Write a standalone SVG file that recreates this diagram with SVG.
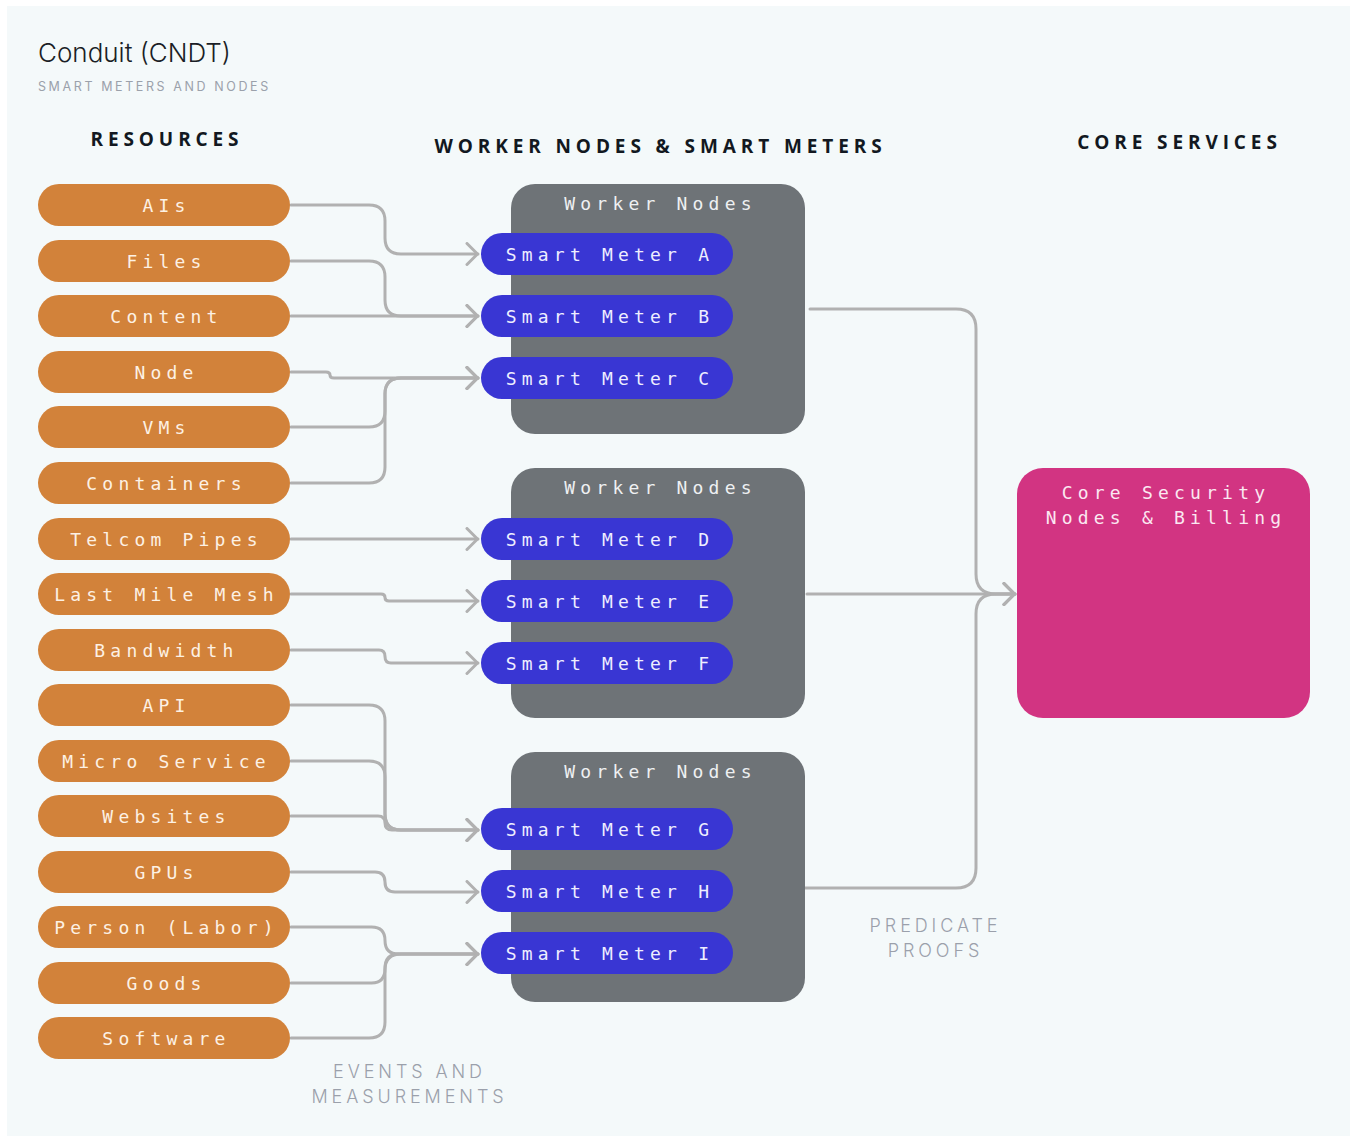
<svg xmlns="http://www.w3.org/2000/svg" width="1352" height="1136" viewBox="0 0 1352 1136">
<style>
.res rect{fill:#d2823a}
.res text{fill:#fdf1e4}
.mono{font-family:"DejaVu Sans Mono","Liberation Mono",monospace;font-size:18px;letter-spacing:5.2px;text-anchor:middle}
.grp rect{fill:#6e7377}
.grp text{fill:#eef0f2}
.sm rect{fill:#3936d3}
.sm text{fill:#eeeeff}
.core rect{fill:#d23482}
.core text{fill:#fbe8f1}
.hdr{font-family:"Open Sans","Liberation Sans",sans-serif;font-weight:700;font-size:19px;letter-spacing:4.9px;fill:#121821;text-anchor:middle}
.note{font-family:Inter,"Liberation Sans",sans-serif;font-weight:300;font-size:18px;letter-spacing:3.9px;fill:#9ba0ab;text-anchor:middle}
.conn path{fill:none;stroke:#b1b1b1;stroke-width:3;stroke-linecap:round;stroke-linejoin:round}
</style>
<defs>
<marker id="arr" viewBox="0 0 14 24" refX="13" refY="12" markerWidth="14" markerHeight="24" markerUnits="userSpaceOnUse" orient="auto">
<path d="M2,1.5 L12.5,12 L2,22.5" fill="none" stroke="#b1b1b1" stroke-width="3" stroke-linecap="round" stroke-linejoin="round"/>
</marker>
</defs>
<rect x="0" y="0" width="1352" height="1136" fill="#ffffff"/>
<rect x="7" y="6" width="1343" height="1130" fill="#f4f9fa"/>

<g id="title">
<text x="38" y="62" font-family="Inter,'Liberation Sans',sans-serif" font-weight="300" font-size="26" fill="#1a1e26">Conduit (CNDT)</text>
<text x="38" y="91" font-family="Inter,'Liberation Sans',sans-serif" font-size="12.5" letter-spacing="2.6" fill="#9ba1ab">SMART METERS AND NODES</text>
</g>
<g id="headers">
<text class="hdr" x="167" y="146">RESOURCES</text>
<text class="hdr" x="660.5" y="153">WORKER NODES &amp; SMART METERS</text>
<text class="hdr" x="1179.5" y="149">CORE SERVICES</text>
</g>

<g class="conn" id="connectors">
<path marker-end="url(#arr)" d="M291 205 H369 Q385 205 385 221 V238 Q385 254 401 254 H478"/>
<path marker-end="url(#arr)" d="M291 261 H369 Q385 261 385 277 V300 Q385 316 401 316 H478"/>
<path marker-end="url(#arr)" d="M291 316 H478"/>
<path marker-end="url(#arr)" d="M291 372 H326 Q330 372 330 375 Q330 378 334 378 H478"/>
<path marker-end="url(#arr)" d="M291 427 H369 Q385 427 385 411 V394 Q385 378 401 378 H478"/>
<path marker-end="url(#arr)" d="M291 483 H369 Q385 483 385 467 V394 Q385 378 401 378 H478"/>
<path marker-end="url(#arr)" d="M291 539 H478"/>
<path marker-end="url(#arr)" d="M291 594 H381 Q385 594 385 597.5 Q385 601 389 601 H478"/>
<path marker-end="url(#arr)" d="M291 650 H379 Q385 650 385 656.5 Q385 663 391 663 H478"/>
<path marker-end="url(#arr)" d="M291 705 H369 Q385 705 385 721 V814 Q385 830 401 830 H478"/>
<path marker-end="url(#arr)" d="M291 761 H369 Q385 761 385 777 V814 Q385 830 401 830 H478"/>
<path marker-end="url(#arr)" d="M291 816 H378 Q385 816 385 823 Q385 830 392 830 H478"/>
<path marker-end="url(#arr)" d="M291 872 H375 Q385 872 385 882 Q385 892 395 892 H478"/>
<path marker-end="url(#arr)" d="M291 927 H371.5 Q385 927 385 940.5 Q385 954 398.5 954 H478"/>
<path marker-end="url(#arr)" d="M291 983 H371.5 Q385 983 385 968.5 Q385 954 398.5 954 H478"/>
<path marker-end="url(#arr)" d="M291 1038 H369 Q385 1038 385 1022 V970 Q385 954 401 954 H478"/>
<path marker-end="url(#arr)" d="M810 309 H956 Q976 309 976 329 V574 Q976 594 996 594 H1015"/>
<path marker-end="url(#arr)" d="M807 594 H1015"/>
<path marker-end="url(#arr)" d="M805 888 H956 Q976 888 976 868 V614 Q976 594 996 594 H1015"/>
</g>

<g id="resources" class="mono">
<g id="r-ais" class="res"><rect x="38" y="184" width="252" height="42" rx="21"/><text x="166.5" y="211.5">AIs</text></g>
<g id="r-files" class="res"><rect x="38" y="240" width="252" height="42" rx="21"/><text x="166.5" y="267.5">Files</text></g>
<g id="r-content" class="res"><rect x="38" y="295" width="252" height="42" rx="21"/><text x="166.5" y="322.5">Content</text></g>
<g id="r-node" class="res"><rect x="38" y="351" width="252" height="42" rx="21"/><text x="166.5" y="378.5">Node</text></g>
<g id="r-vms" class="res"><rect x="38" y="406" width="252" height="42" rx="21"/><text x="166.5" y="433.5">VMs</text></g>
<g id="r-containers" class="res"><rect x="38" y="462" width="252" height="42" rx="21"/><text x="166.5" y="489.5">Containers</text></g>
<g id="r-telcom" class="res"><rect x="38" y="518" width="252" height="42" rx="21"/><text x="166.5" y="545.5">Telcom Pipes</text></g>
<g id="r-lastmile" class="res"><rect x="38" y="573" width="252" height="42" rx="21"/><text x="166.5" y="600.5">Last Mile Mesh</text></g>
<g id="r-bandwidth" class="res"><rect x="38" y="629" width="252" height="42" rx="21"/><text x="166.5" y="656.5">Bandwidth</text></g>
<g id="r-api" class="res"><rect x="38" y="684" width="252" height="42" rx="21"/><text x="166.5" y="711.5">API</text></g>
<g id="r-micro" class="res"><rect x="38" y="740" width="252" height="42" rx="21"/><text x="166.5" y="767.5">Micro Service</text></g>
<g id="r-websites" class="res"><rect x="38" y="795" width="252" height="42" rx="21"/><text x="166.5" y="822.5">Websites</text></g>
<g id="r-gpus" class="res"><rect x="38" y="851" width="252" height="42" rx="21"/><text x="166.5" y="878.5">GPUs</text></g>
<g id="r-person" class="res"><rect x="38" y="906" width="252" height="42" rx="21"/><text x="166.5" y="933.5">Person (Labor)</text></g>
<g id="r-goods" class="res"><rect x="38" y="962" width="252" height="42" rx="21"/><text x="166.5" y="989.5">Goods</text></g>
<g id="r-software" class="res"><rect x="38" y="1017" width="252" height="42" rx="21"/><text x="166.5" y="1044.5">Software</text></g>
</g>

<g id="workers" class="mono">
<g id="wn1" class="grp"><rect x="511" y="184" width="294" height="250" rx="24"/><text x="660.5" y="209.5">Worker Nodes</text></g>
<g id="wn2" class="grp"><rect x="511" y="468" width="294" height="250" rx="24"/><text x="660.5" y="493.5">Worker Nodes</text></g>
<g id="wn3" class="grp"><rect x="511" y="752" width="294" height="250" rx="24"/><text x="660.5" y="777.5">Worker Nodes</text></g>
<g id="sm-a" class="sm"><rect x="481" y="233" width="252" height="42" rx="21"/><text x="610" y="261">Smart Meter A</text></g>
<g id="sm-b" class="sm"><rect x="481" y="295" width="252" height="42" rx="21"/><text x="610" y="323">Smart Meter B</text></g>
<g id="sm-c" class="sm"><rect x="481" y="357" width="252" height="42" rx="21"/><text x="610" y="385">Smart Meter C</text></g>
<g id="sm-d" class="sm"><rect x="481" y="518" width="252" height="42" rx="21"/><text x="610" y="546">Smart Meter D</text></g>
<g id="sm-e" class="sm"><rect x="481" y="580" width="252" height="42" rx="21"/><text x="610" y="608">Smart Meter E</text></g>
<g id="sm-f" class="sm"><rect x="481" y="642" width="252" height="42" rx="21"/><text x="610" y="670">Smart Meter F</text></g>
<g id="sm-g" class="sm"><rect x="481" y="808" width="252" height="42" rx="21"/><text x="610" y="836">Smart Meter G</text></g>
<g id="sm-h" class="sm"><rect x="481" y="870" width="252" height="42" rx="21"/><text x="610" y="898">Smart Meter H</text></g>
<g id="sm-i" class="sm"><rect x="481" y="932" width="252" height="42" rx="21"/><text x="610" y="960">Smart Meter I</text></g>
</g>

<g id="core" class="core mono">
<rect x="1017" y="468" width="293" height="250" rx="26"/>
<text x="1166" y="499">Core Security</text>
<text x="1166" y="524">Nodes &amp; Billing</text>
</g>

<g id="labels">
<text class="note" x="935.5" y="932">PREDICATE</text>
<text class="note" x="935.5" y="957">PROOFS</text>
<text class="note" x="409.5" y="1078">EVENTS AND</text>
<text class="note" x="409.5" y="1103">MEASUREMENTS</text>
</g>
</svg>
